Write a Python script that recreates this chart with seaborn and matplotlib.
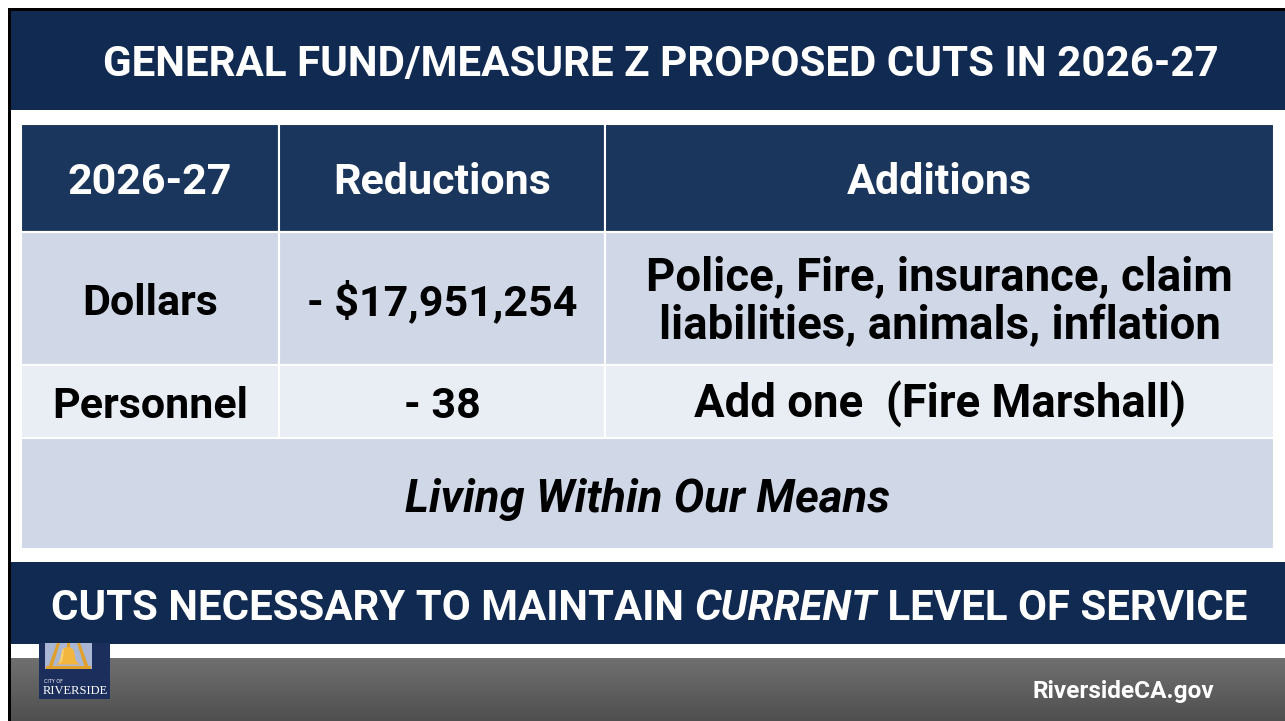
import numpy as np
import seaborn as sns
import matplotlib.pyplot as plt
from matplotlib.patches import Rectangle, Polygon

sns.set_theme(style="white")
plt.rcParams['font.family'] = ['Roboto', 'DejaVu Sans']

# slide content
title = "GENERAL FUND/MEASURE Z PROPOSED CUTS IN 2026-27"
col_headers = ["2026-27", "Reductions", "Additions"]
row_labels = ["Dollars", "Personnel"]
reductions = ["- $17,951,254", "- 38"]
additions = ["Police, Fire, insurance, claim\nliabilities, animals, inflation",
             "Add one  (Fire Marshall)"]
motto = "Living Within Our Means"
banner = ["CUTS NECESSARY TO MAINTAIN ", "CURRENT", " LEVEL OF SERVICE"]
footer_url = "RiversideCA.gov"

navy = "#112a52"
head_blue = "#1b365d"
row_cols = ["#d0d8e8", "#e9edf4", "#d0d8e8"]

fig = plt.figure(figsize=(12.85, 7.21), dpi=100)
ax = fig.add_axes([0, 0, 1, 1])
ax.set_xlim(0, 1285)
ax.set_ylim(721, 0)
ax.axis('off')
fig.patch.set_facecolor("white")
renderer = fig.canvas.get_renderer()


def fit(t, width):
    bb = t.get_window_extent(renderer)
    t.set_fontsize(t.get_fontsize() * width / bb.width)


# black frame
ax.add_patch(Rectangle((8, 8), 1285, 3, color="black", lw=0))
ax.add_patch(Rectangle((8, 8), 3, 721, color="black", lw=0))

# title band
ax.add_patch(Rectangle((11, 11), 1280, 99, color=navy, lw=0))
t = ax.text(661, 76, title, color="white", fontsize=28, fontweight="bold",
            ha="center", va="baseline")
fit(t, 1117)

# table
col_edges = [21, 279, 605, 1274]
row_edges = [124, 232, 365, 438, 549]
col_centers = [(a + b) / 2 for a, b in zip(col_edges[:-1], col_edges[1:])]

for i in range(3):
    ax.add_patch(Rectangle((col_edges[i], row_edges[0]), col_edges[i + 1] - col_edges[i],
                           row_edges[1] - row_edges[0], facecolor=head_blue,
                           edgecolor="white", lw=1.5))
    ax.text(col_centers[i], 194, col_headers[i], color="white", fontsize=31,
            fontweight="bold", ha="center", va="baseline")

for r in range(2):
    y0, y1 = row_edges[r + 1], row_edges[r + 2]
    for i in range(3):
        ax.add_patch(Rectangle((col_edges[i], y0), col_edges[i + 1] - col_edges[i], y1 - y0,
                               facecolor=row_cols[r], edgecolor="white", lw=1.5))
    yc = (y0 + y1) / 2 + 1
    ax.text(col_centers[0], yc + 15.5, row_labels[r], color="black", fontsize=31,
            fontweight="bold", ha="center", va="baseline")
    ax.text(col_centers[1], yc + 15.5, reductions[r], color="black", fontsize=31,
            fontweight="bold", ha="center", va="baseline")
    lines = additions[r].split("\n")
    if len(lines) == 1:
        ax.text(col_centers[2], yc + 15.5, lines[0], color="black", fontsize=32.8,
                fontweight="bold", ha="center", va="baseline")
    else:
        for k, ln in enumerate(lines):
            ax.text(col_centers[2], 290 + 49 * k, ln, color="black", fontsize=32.8,
                    fontweight="bold", ha="center", va="baseline")

ax.add_patch(Rectangle((col_edges[0], row_edges[3]), col_edges[-1] - col_edges[0],
                       row_edges[4] - row_edges[3], facecolor=row_cols[2],
                       edgecolor="white", lw=1.5))
ax.text((col_edges[0] + col_edges[-1]) / 2, 512, motto, color="black", fontsize=32.8,
        fontweight="bold", fontstyle="italic", ha="center", va="baseline")

# bottom banner
ax.add_patch(Rectangle((11, 562), 1280, 82, color=navy, lw=0))
parts = []
for k, s in enumerate(banner):
    parts.append(ax.text(0, 620, s, color="white", fontsize=30, fontweight="bold",
                         fontstyle="italic" if k == 1 else "normal",
                         ha="left", va="baseline"))
widths = [p.get_window_extent(renderer).width for p in parts]
scale = (1247 - 52) / sum(widths)
for p in parts:
    p.set_fontsize(30 * scale)
widths = [p.get_window_extent(renderer).width for p in parts]
x = 649.5 - sum(widths) / 2
for p, w in zip(parts, widths):
    p.set_x(x)
    x += w

# grey footer gradient
grad = np.linspace(0, 1, 64)[:, None]
ax.imshow(grad, cmap=sns.blend_palette(["#707070", "#4f4f4f"], as_cmap=True),
          extent=[11, 1285, 721, 658], aspect="auto", zorder=1)
ax.text(1123, 698, footer_url, color="white", fontsize=17.6, fontweight="bold",
        ha="center", va="baseline", zorder=3)

# city logo
ax.add_patch(Rectangle((39, 643), 71, 56, color="#1c2f5c", lw=0, zorder=3))
ax.add_patch(Rectangle((45, 643), 47, 26, color="#a9b7d4", lw=0, zorder=3))
gold = "#e0a02a"
ax.add_patch(Polygon([[48, 668], [52, 668], [60, 643], [57, 643]], color=gold, lw=0, zorder=4))
ax.add_patch(Polygon([[89, 668], [85, 668], [77, 643], [80, 643]], color=gold, lw=0, zorder=4))
ax.add_patch(Rectangle((46, 665.5), 45, 3, color=gold, lw=0, zorder=4))
ax.add_patch(Rectangle((66.5, 643), 3, 5, color=gold, lw=0, zorder=4))
ang = np.linspace(0, np.pi, 20)
dome = [[68 + 6 * np.cos(a), 652 - 5 * np.sin(a)] for a in ang]
bell = dome + [[61, 656], [60.5, 660], [58, 663], [56, 664.5], [80, 664.5], [78, 663],
               [75.5, 660], [75, 656]]
bell = [[68 + 6, 652]] + bell[1:]
ax.add_patch(Polygon(bell, closed=True, color="#f2b53e", lw=0, zorder=4))
ax.add_patch(Polygon(bell[::-1][:0] + [[61, 655], [62, 650], [64, 648], [63.5, 656], [62, 662], [59, 664]],
                     color="#f8cd6a", lw=0, zorder=5))
ax.text(44, 683, "CITY OF", color="white", fontsize=3.5, family="DejaVu Sans",
        ha="left", va="baseline", zorder=5)
ax.text(75, 694, "RIVERSIDE", color="white", fontsize=9, family="Liberation Serif",
        ha="center", va="baseline", zorder=5)

fig.savefig("out.png", dpi=100, facecolor="white")
